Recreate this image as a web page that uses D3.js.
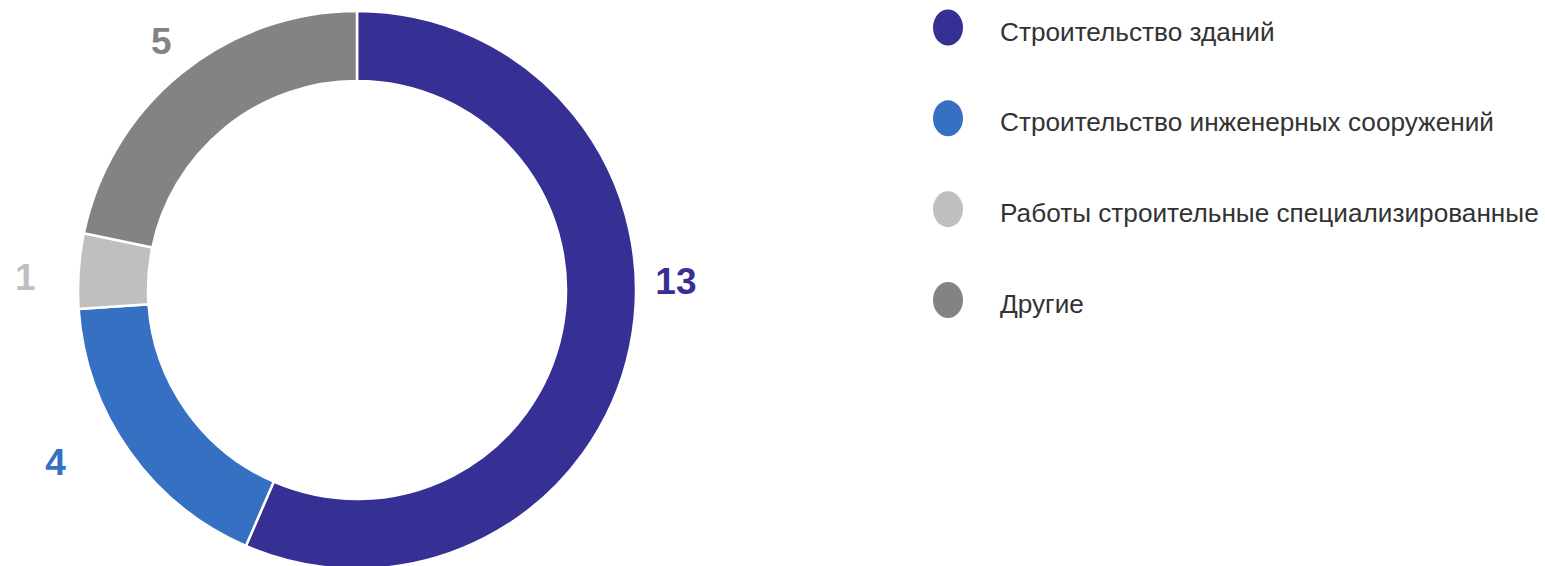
<!DOCTYPE html>
<html>
<head>
<meta charset="utf-8">
<script src="https://cdn.jsdelivr.net/npm/d3@7"></script>
<style>
  html, body { margin: 0; padding: 0; background: #fff; }
  svg { display: block; font-family: "Liberation Sans", Arial, sans-serif; }
</style>
</head>
<body>
<div id="chart"></div>
<script>
// Chart data
const categories = [
  'Строительство зданий',
  'Строительство инженерных сооружений',
  'Работы строительные специализированные',
  'Другие'
];
const values = [13, 4, 1, 5];
const colors = ['#373094', '#3570c2', '#bfbfbf', '#838383'];

const width = 1545;
const height = 566;

const svg = d3.select('#chart').append('svg')
  .attr('width', width)
  .attr('height', height);

// Donut
const cx = 357;
const cy = 290;
const outerR = 279;
const innerR = 209;

const pie = d3.pie().sort(null).value(d => d)(values);
const arc = d3.arc().innerRadius(innerR).outerRadius(outerR);

const g = svg.append('g').attr('transform', `translate(${cx},${cy})`);

g.selectAll('path.slice')
  .data(pie)
  .enter().append('path')
  .attr('class', 'slice')
  .attr('d', arc)
  .attr('fill', (d, i) => colors[i])
  .attr('stroke', '#fff')
  .attr('stroke-width', 2.5);

// Labels sit outside the ring; they were nudged by hand in the original
const labelR = 330;
const labelShift = [-0.23, 0.096, -0.03, 0.015]; // radians
const labelPull = [-11, 17, 2, -14]; // px along the radius
g.selectAll('text.value')
  .data(pie)
  .enter().append('text')
  .attr('class', 'value')
  .attr('transform', (d, i) => {
    const a = (d.startAngle + d.endAngle) / 2 + labelShift[i];
    const r = labelR + labelPull[i];
    return `translate(${r * Math.sin(a)},${-r * Math.cos(a)})`;
  })
  .attr('text-anchor', 'middle')
  .attr('dominant-baseline', 'central')
  .attr('font-size', 37)
  .attr('font-weight', 'bold')
  .attr('fill', (d, i) => colors[i])
  .text(d => d.data);

// Legend
const legendY = d3.scalePoint()
  .domain(categories)
  .range([27.5, 300]);

const legend = svg.append('g').attr('class', 'legend');
const item = legend.selectAll('g')
  .data(categories)
  .enter().append('g')
  .attr('transform', d => `translate(948,${legendY(d)})`);

item.append('ellipse')
  .attr('rx', 15)
  .attr('ry', 18)
  .attr('fill', (d, i) => colors[i]);

item.append('text')
  .attr('x', 52)
  .attr('y', 4)
  .attr('dominant-baseline', 'central')
  .attr('font-size', 26.2)
  .attr('fill', '#333')
  .text(d => d);
</script>
</body>
</html>
